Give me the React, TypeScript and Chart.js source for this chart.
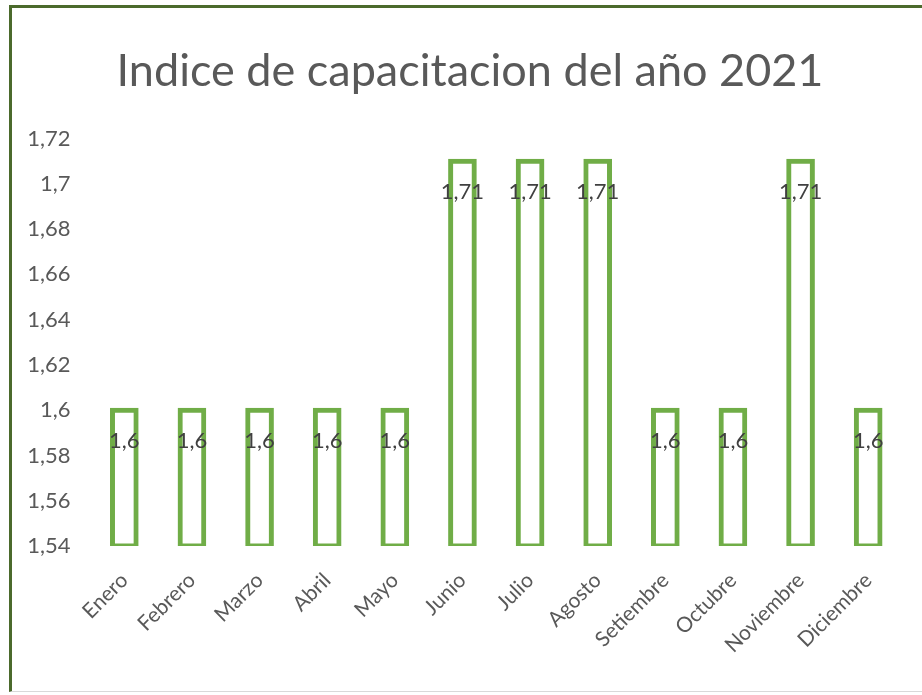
import React, { useEffect, useRef } from "react";
import { Chart, registerables } from "chart.js";
Chart.register(...registerables);

const categories = ["Enero", "Febrero", "Marzo", "Abril", "Mayo", "Junio", "Julio", "Agosto", "Setiembre", "Octubre", "Noviembre", "Diciembre"];
const values = [1.6, 1.6, 1.6, 1.6, 1.6, 1.71, 1.71, 1.71, 1.6, 1.6, 1.71, 1.6];
const yTicks = [1.54, 1.56, 1.58, 1.6, 1.62, 1.64, 1.66, 1.68, 1.7, 1.72];
const chartTitle = "Indice de capacitacion del año 2021";

const FONT = "Lato, 'Open Sans', sans-serif";
const fmt = (v: number) => String(Math.round(v * 100) / 100).replace(".", ",");

const labelPlugin = {
  id: "barLabels",
  afterDatasetsDraw(chart: any) {
    const ctx = chart.ctx;
    const meta = chart.getDatasetMeta(0);
    ctx.save();
    ctx.font = `22px ${FONT}`;
    ctx.fillStyle = "#404040";
    ctx.textAlign = "center";
    ctx.textBaseline = "middle";
    meta.data.forEach((el: any, i: number) => {
      ctx.fillText(fmt(values[i]), el.x, el.y + 31);
    });
    ctx.restore();
  },
};

const titlePlugin = {
  id: "customTitle",
  afterDraw(chart: any) {
    const ctx = chart.ctx;
    ctx.save();
    ctx.font = `45px ${FONT}`;
    ctx.fillStyle = "#595959";
    ctx.textAlign = "center";
    ctx.textBaseline = "alphabetic";
    ctx.fillText(chartTitle, 470, 86);
    ctx.restore();
  },
};

export default function App() {
  const ref = useRef<HTMLCanvasElement>(null);
  useEffect(() => {
    if (!ref.current) return;
    const chart = new Chart(ref.current, {
      type: "bar",
      data: {
        labels: categories,
        datasets: [
          {
            data: values,
            backgroundColor: "#ffffff",
            borderColor: "#70AD47",
            borderWidth: 5,
            borderSkipped: false,
            inflateAmount: 2.5,
            categoryPercentage: 1,
            barPercentage: 0.35,
            base: 1.54,
          },
        ],
      },
      options: {
        animation: false,
        responsive: false,
        layout: { padding: { left: 0, right: 20, top: 138.5, bottom: 0 } },
        plugins: {
          legend: { display: false },
          tooltip: { enabled: false },
          title: { display: false },
        },
        scales: {
          x: {
            grid: { display: false, drawTicks: false },
            border: { display: false },
            ticks: {
              color: "#595959",
              font: { family: FONT, size: 21 },
              maxRotation: 45,
              minRotation: 45,
              padding: 22,
              autoSkip: false,
            },
            afterFit: (axis: any) => {
              axis.height = 149;
            },
          },
          y: {
            min: 1.54,
            max: 1.72,
            grid: { display: false, drawTicks: false },
            border: { display: false },
            ticks: {
              color: "#595959",
              font: { family: FONT, size: 22 },
              padding: 20,
              callback: (v: any) => fmt(Number(v)),
            },
            afterBuildTicks: (axis: any) => {
              axis.ticks = yTicks.map((v) => ({ value: v }));
            },
            afterFit: (axis: any) => {
              axis.width = 90.5;
            },
          },
        },
      },
      plugins: [labelPlugin, titlePlugin],
    });
    return () => chart.destroy();
  }, []);

  return (
    <div style={{ position: "absolute", left: 0, top: 0, width: 922, height: 695, overflow: "hidden", background: "#fff" }}>
      <div
        style={{
          position: "absolute",
          left: 9,
          top: 5,
          width: 940,
          height: 687,
          borderTop: "3px solid #4B6A2C",
          borderLeft: "3px solid #4B6A2C",
          borderBottom: "1px solid #d9d9d9",
          boxSizing: "border-box",
        }}
      />
      <canvas ref={ref} width={922} height={695} style={{ position: "absolute", left: 0, top: 0 }} />
    </div>
  );
}
